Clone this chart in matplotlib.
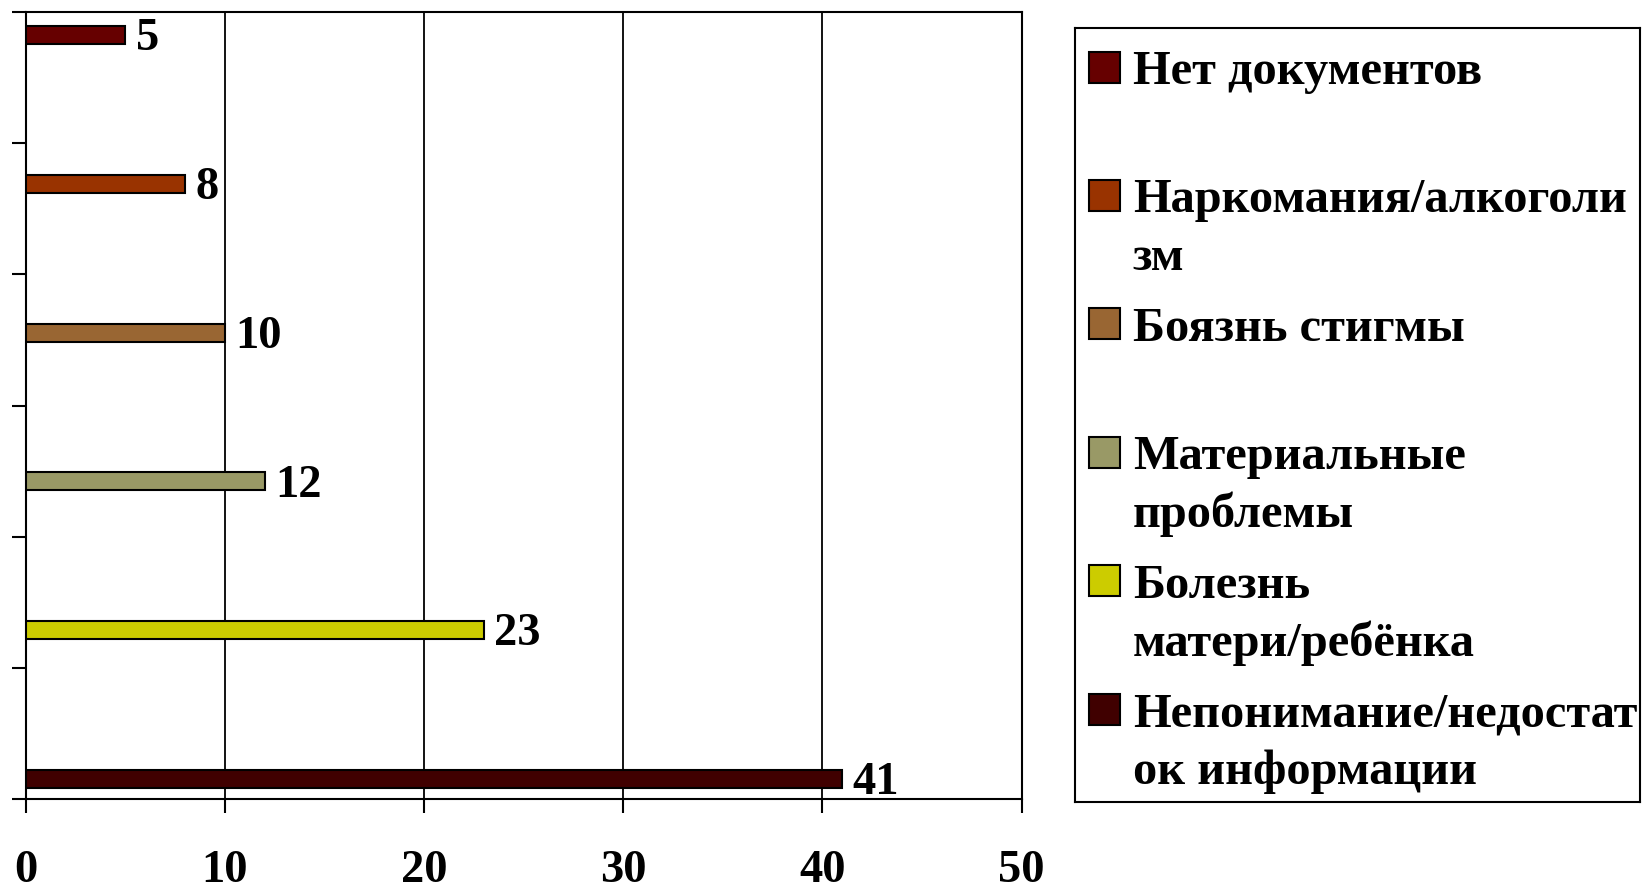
import numpy as np
import matplotlib.pyplot as plt
from matplotlib.patches import Rectangle

# data, listed top to bottom as in the legend
categories = ["Нет документов", "Наркомания/алкоголизм", "Боязнь стигмы",
              "Материальные проблемы", "Болезнь матери/ребёнка",
              "Непонимание/недостаток информации"]
legend_text = ["Нет документов", "Наркомания/алкоголи\nзм", "Боязнь стигмы",
               "Материальные\nпроблемы", "Болезнь\nматери/ребёнка",
               "Непонимание/недостат\nок информации"]
values = [5, 8, 10, 12, 23, 41]
colors = ["#660000", "#993300", "#996633", "#999966", "#CCCC00", "#400000"]
xticks = [0, 10, 20, 30, 40, 50]

plt.rcParams['font.family'] = ['Liberation Serif', 'DejaVu Serif']
plt.rcParams['font.weight'] = 'bold'

fig = plt.figure(figsize=(16.42, 8.88), dpi=100)
ax = fig.add_axes([0.01565, 0.1002, 0.6065, 0.8863])

# bar positions (layout only)
ypos = 5.823 - 1.134 * np.arange(len(values))
bars = ax.barh(ypos, values, height=0.137, color=colors, edgecolor="black",
               linewidth=1.5, zorder=3)
for v, y in zip(values, ypos):
    ax.annotate(str(v), xy=(v, y), xytext=(7.5, -3), textcoords='offset points',
                fontsize=33.5, fontweight='bold', va='center', ha='left', zorder=4)

ax.set_xlim(0, 50)
ax.set_ylim(0, 6)
ax.set_xticks(xticks)
ax.set_xticklabels([str(t) for t in xticks], fontsize=33.5, fontweight='bold')
ax.set_yticks(np.arange(0, 7))
ax.set_yticklabels([])
ax.tick_params(axis='both', direction='out', length=10, width=1.5, color='black')
ax.tick_params(axis='x', pad=26.5)
ax.xaxis.grid(True, color='black', linewidth=1.3, zorder=0)
for s in ax.spines.values():
    s.set_linewidth(1.5)

# legend box drawn by hand so that markers line up with the first text line
lax = fig.add_axes([0.6547, 0.0971, 0.3441, 0.8713])
lax.set_xlim(0, 1)
lax.set_ylim(0, 1)
lax.set_xticks([])
lax.set_yticks([])
for s in lax.spines.values():
    s.set_linewidth(1.5)

row0 = 0.9496
step = 0.166
line_gap = 0.0737
mw, mh = 0.0549, 0.040
for i, (lab, c) in enumerate(zip(legend_text, colors)):
    yc = row0 - i * step
    lax.add_patch(Rectangle((0.0248, yc - mh / 2), mw, mh, facecolor=c,
                            edgecolor='black', linewidth=1.5))
    for j, line in enumerate(lab.split("\n")):
        lax.text(0.1025, yc - j * line_gap, line, fontsize=34.8, fontweight='bold',
                 va='center_baseline', ha='left')

fig.savefig("out.png", dpi=100)
